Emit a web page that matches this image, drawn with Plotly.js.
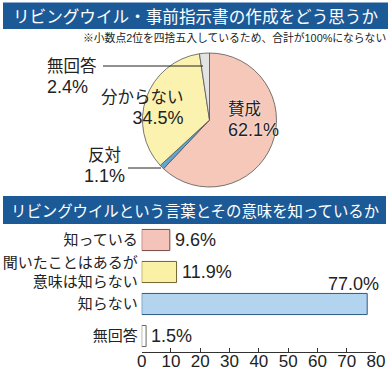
<!DOCTYPE html>
<html>
<head>
<meta charset="utf-8">
<script src="https://cdn.plot.ly/plotly-3.0.1.min.js"></script>
<style>html,body{margin:0;padding:0;background:#fff;}#chart{width:390px;height:373px;}</style>
</head>
<body>
<div id="chart"></div>
<script>
// ---- data ----
const title1 = 'リビングウイル・事前指示書の作成をどう思うか';
const note1 = '※小数点2位を四捨五入しているため、合計が100%にならない';
const title2 = 'リビングウイルという言葉とその意味を知っているか';

const pieLabels = ['賛成', '反対', '分からない', '無回答'];
const pieValues = [62.1, 1.1, 34.5, 2.4];
const pieColors = ['#f6c8b9', '#5fa6d2', '#fbf2b0', '#e3e3e3'];

const barCats = ['知っている', '聞いたことはあるが<br>意味は知らない', '知らない', '無回答'];
const barValues = [9.6, 11.9, 77.0, 1.5];
const barColors = ['#f4c3ba', '#fbf1a6', '#b3d4ee', '#ffffff'];
const barLines = ['#7a4a44', '#6e6430', '#2d5b86', '#666666'];
const xTickVals = [0, 10, 20, 30, 40, 50, 60, 70, 80];

// ---- helpers (layout positions in pixels -> paper) ----
const W = 390, H = 373;
const px = x => x / W;
const py = y => 1 - y / H;

const JP = '"Noto Sans CJK JP", sans-serif';
const NUM = '"Liberation Sans", "Noto Sans CJK JP", sans-serif';
const BAND = '#1c5a97';

const pieTrace = {
  type: 'pie',
  labels: pieLabels,
  values: pieValues,
  sort: false,
  direction: 'clockwise',
  rotation: 0,
  textinfo: 'none',
  hoverinfo: 'none',
  showlegend: false,
  marker: { colors: pieColors, line: { color: '#555', width: 0.8 } },
  domain: { x: [px(142.5), px(276.5)], y: [py(187), py(53)] }
};

const barTrace = {
  type: 'bar',
  orientation: 'h',
  x: barValues,
  y: barCats,
  width: 0.66,
  marker: { color: barColors, line: { color: barLines, width: 1 } },
  hoverinfo: 'none',
  showlegend: false,
  xaxis: 'x',
  yaxis: 'y'
};

const fmt = v => v.toFixed(1) + '%';

// pie label placement (pixels): [x, centerY, anchor/align]
const pieLabelPos = [
  [226, 120, 'left'],
  [83, 166, 'center'],
  [186, 108, 'right'],
  [45, 77, 'left']
];

const annotations = [];
annotations.push({ xref: 'paper', yref: 'paper', x: px(195), y: py(16), xanchor: 'center', yanchor: 'middle',
  text: title1, showarrow: false, font: { family: JP, size: 16.6, color: '#ffffff' } });
annotations.push({ xref: 'paper', yref: 'paper', x: px(388), y: py(38), xanchor: 'right', yanchor: 'middle',
  text: note1, showarrow: false, font: { family: NUM, size: 10.8, color: '#222' } });
annotations.push({ xref: 'paper', yref: 'paper', x: px(195), y: py(210), xanchor: 'center', yanchor: 'middle',
  text: title2, showarrow: false, font: { family: JP, size: 15.4, color: '#ffffff' } });

pieLabels.forEach((lab, i) => {
  const p = pieLabelPos[i];
  const halo = i === 0 ? '0px 0px 2px #ffffff' : 'none';
  const cx = p[2] === 'center' ? p[0] + 21 : p[0];
  annotations.push({ xref: 'paper', yref: 'paper', x: px(cx), y: py(p[1]), xanchor: p[2], yanchor: 'middle',
    align: p[2], text: lab + '<br><span style="font-size:18px">' + fmt(pieValues[i]) + '</span>',
    showarrow: false, font: { family: NUM, size: 16.5, color: '#222', shadow: halo } });
});

barValues.forEach((v, i) => {
  const big = v > 50;
  annotations.push({ xref: 'x', yref: 'y', x: v, y: barCats[i],
    xanchor: big ? 'right' : 'left', yanchor: 'middle',
    xshift: big ? 14 : 3, yshift: big ? 20 : 0,
    text: fmt(v), showarrow: false, font: { family: NUM, size: 18, color: '#222' } });
});

const shapes = [
  { type: 'rect', xref: 'paper', yref: 'paper', x0: px(3), x1: px(388), y0: py(29), y1: py(2.5),
    fillcolor: BAND, line: { width: 0 }, layer: 'below' },
  { type: 'rect', xref: 'paper', yref: 'paper', x0: px(3), x1: px(386), y0: py(224), y1: py(196),
    fillcolor: BAND, line: { width: 0 }, layer: 'below' },
  { type: 'line', xref: 'paper', yref: 'paper', x0: px(103), x1: px(203), y0: py(66), y1: py(66),
    line: { color: '#222', width: 1 } },
  { type: 'line', xref: 'paper', yref: 'paper', x0: px(128), x1: px(161), y0: py(168), y1: py(168),
    line: { color: '#222', width: 1 } }
];

const layout = {
  width: W, height: H,
  margin: { l: 0, r: 0, t: 0, b: 0, pad: 0 },
  paper_bgcolor: '#ffffff',
  plot_bgcolor: 'rgba(0,0,0,0)',
  showlegend: false,
  xaxis: {
    domain: [px(141.7), px(376)],
    range: [0, 80],
    tickvals: xTickVals,
    ticktext: xTickVals.map(String),
    ticks: 'inside', ticklen: 4, tickcolor: '#333', tickwidth: 1,
    ticklabelstandoff: -6,
    showline: true, linecolor: '#333', linewidth: 1,
    showgrid: false, zeroline: false, fixedrange: true,
    tickfont: { family: NUM, size: 17, color: '#222' },
    anchor: 'y'
  },
  yaxis: {
    domain: [py(352), py(224)],
    autorange: 'reversed',
    type: 'category',
    showline: false, showgrid: false, zeroline: false, ticks: '',
    ticklabelstandoff: 3,
    tickfont: { family: JP, size: 15, color: '#222' },
    fixedrange: true,
    anchor: 'x'
  },
  shapes: shapes,
  annotations: annotations
};

Plotly.newPlot('chart', [pieTrace, barTrace], layout, { staticPlot: true, displayModeBar: false });
</script>
</body>
</html>
